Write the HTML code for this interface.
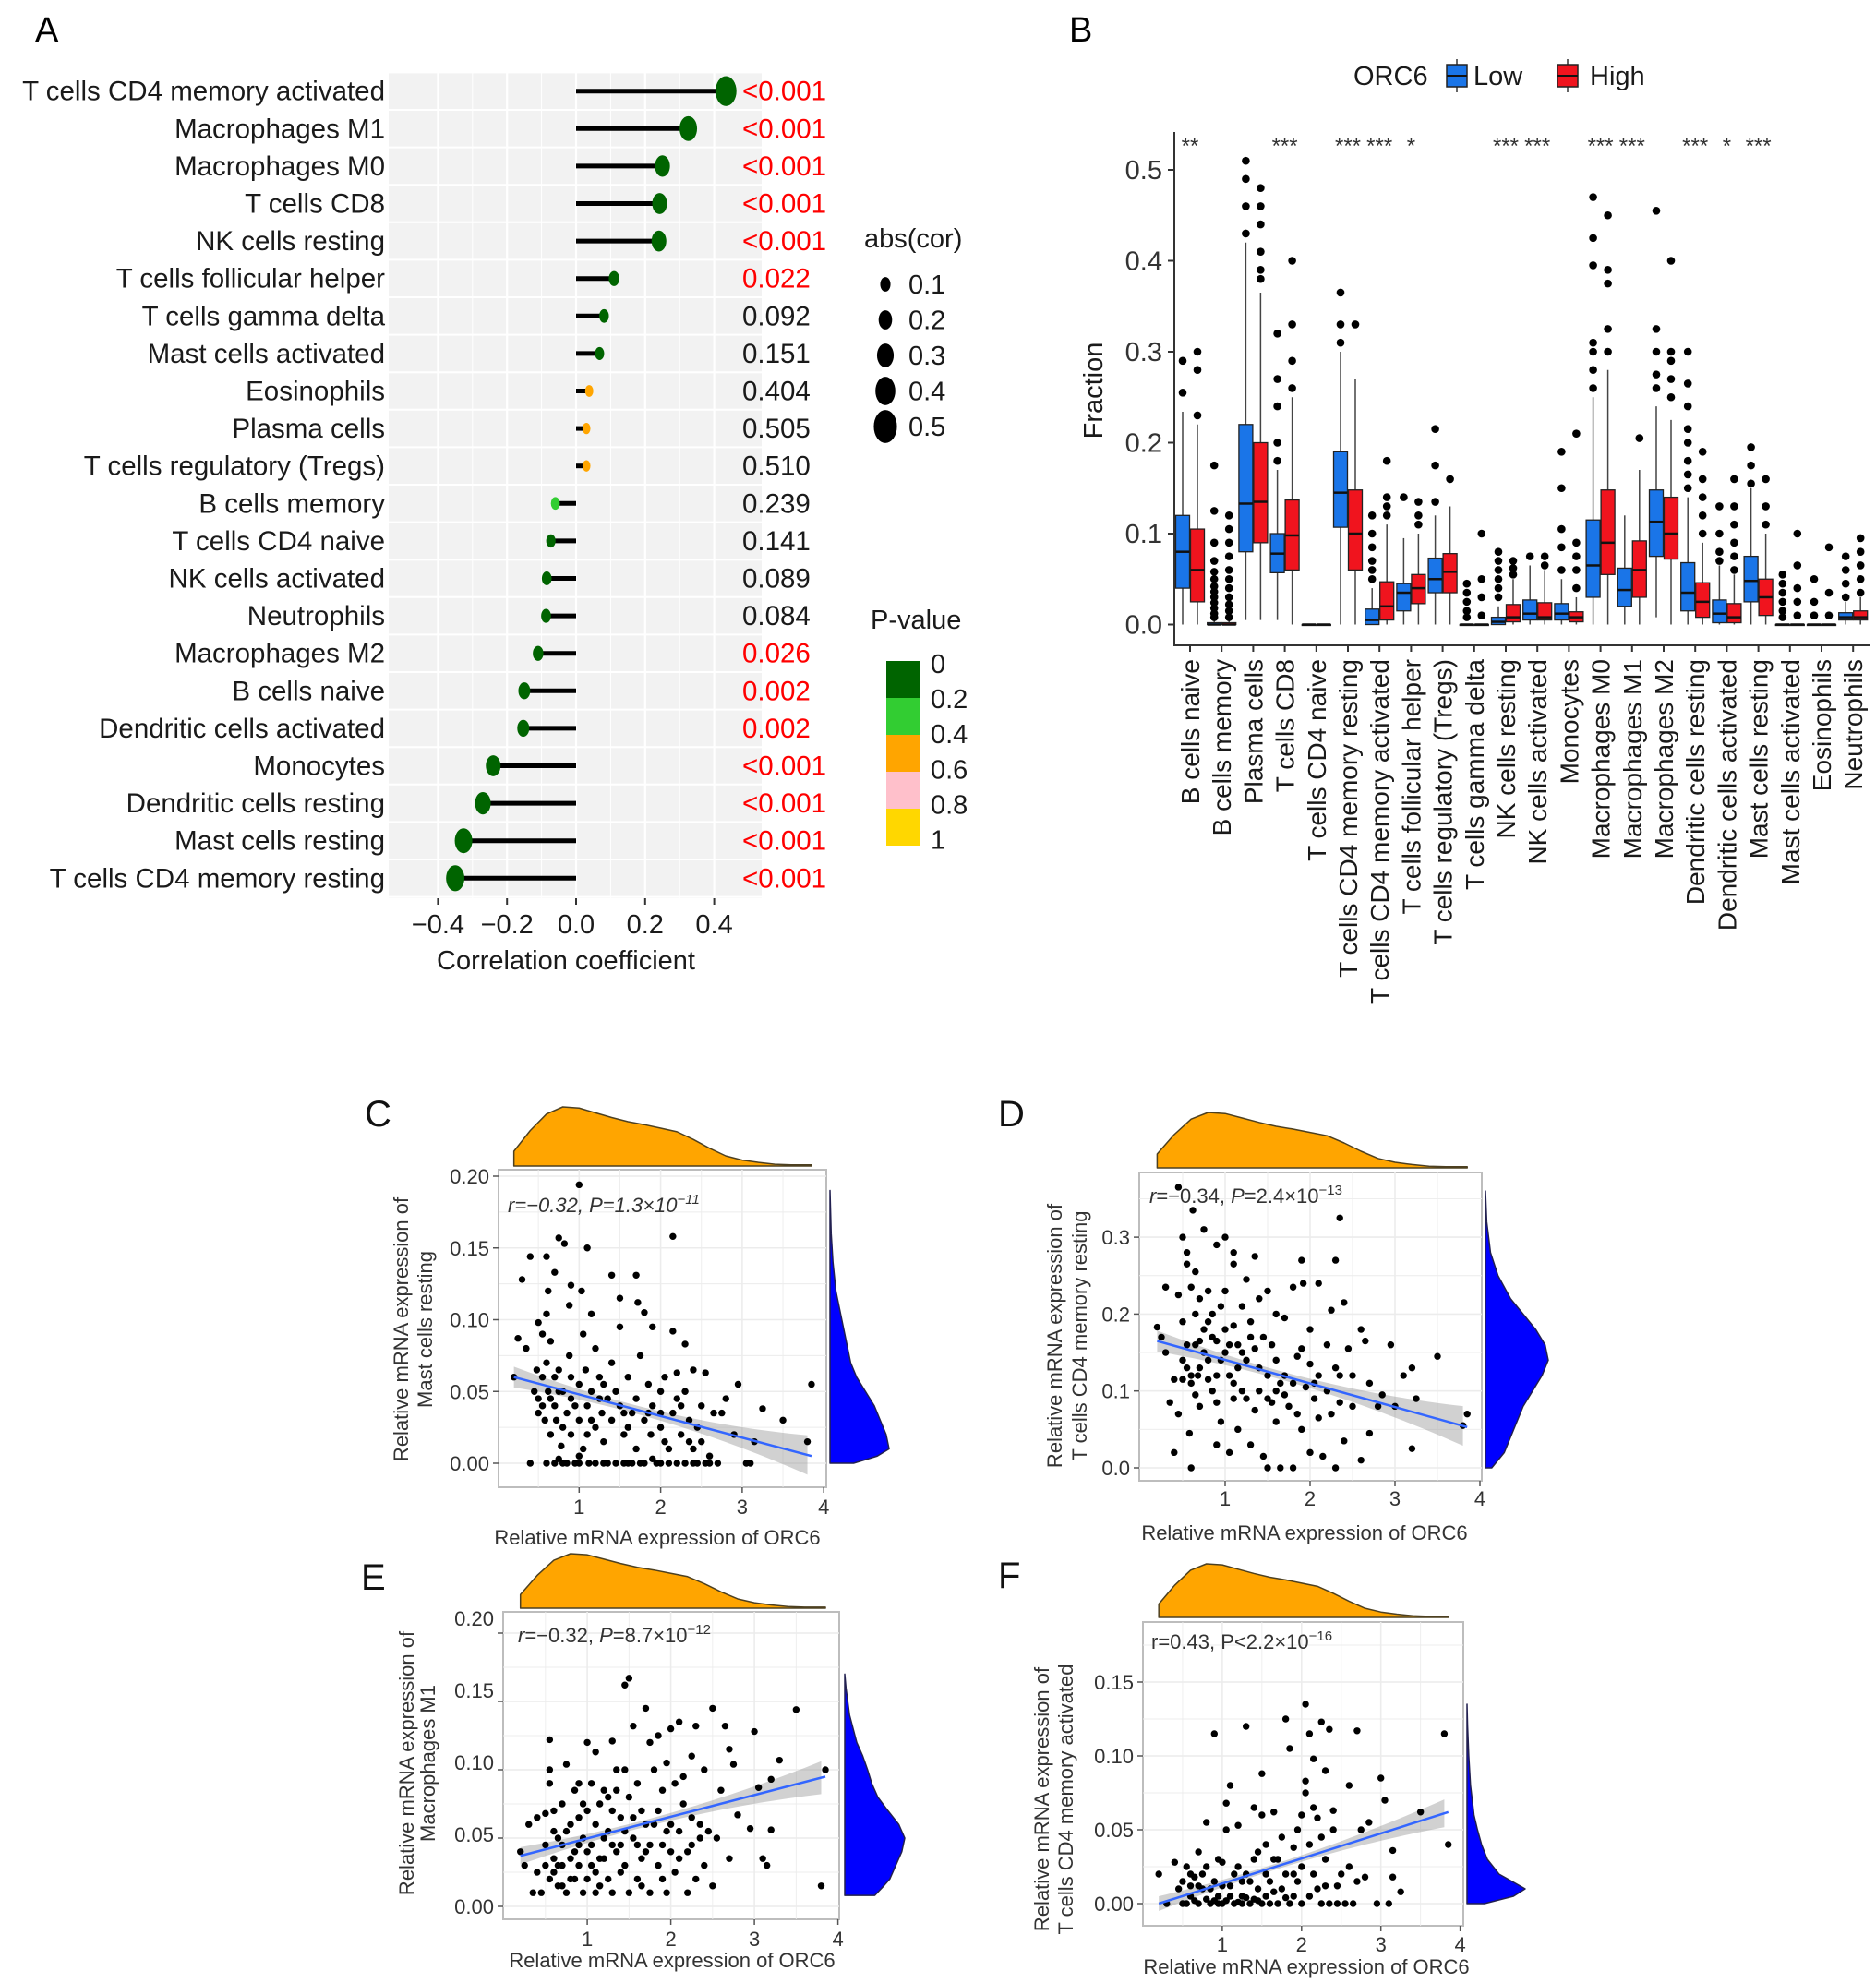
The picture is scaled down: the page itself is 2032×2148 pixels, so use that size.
<!DOCTYPE html>
<html><head><meta charset="utf-8"><style>
html,body{margin:0;padding:0;background:#fff;}
svg{display:block;font-family:"Liberation Sans",Arial,sans-serif;}
</style></head><body>
<svg id="fig" width="2032" height="2148" viewBox="0 0 2032 2148" xmlns="http://www.w3.org/2000/svg">
<rect width="2032" height="2148" fill="#fff"/>
<g id="panelA"></g>
<g id="panelB"></g>
<g id="panelC"></g>
<g id="panelD"></g>
<g id="panelE"></g>
<g id="panelF"></g>
</svg>
<script>
// ---------- Panel A data ----------
const aCells=["T cells CD4 memory activated","Macrophages M1","Macrophages M0","T cells CD8","NK cells resting","T cells follicular helper","T cells gamma delta","Mast cells activated","Eosinophils","Plasma cells","T cells regulatory (Tregs)","B cells memory","T cells CD4 naive","NK cells activated","Neutrophils","Macrophages M2","B cells naive","Dendritic cells activated","Monocytes","Dendritic cells resting","Mast cells resting","T cells CD4 memory resting"];
const aCor=[0.434,0.325,0.25,0.242,0.24,0.11,0.081,0.068,0.038,0.03,0.03,-0.06,-0.073,-0.085,-0.087,-0.11,-0.15,-0.153,-0.24,-0.27,-0.326,-0.35];
const aPval=[0.0005,0.0005,0.0005,0.0005,0.0005,0.022,0.092,0.151,0.404,0.505,0.510,0.239,0.141,0.089,0.084,0.026,0.002,0.002,0.0005,0.0005,0.0005,0.0005];
const aPtext=["<0.001","<0.001","<0.001","<0.001","<0.001","0.022","0.092","0.151","0.404","0.505","0.510","0.239","0.141","0.089","0.084","0.026","0.002","0.002","<0.001","<0.001","<0.001","<0.001"];
const aTicks=[-0.4,-0.2,0,0.2,0.4];
const aTickLabels=["\u22120.4","\u22120.2","0.0","0.2","0.4"];
const aSizeLegend=[0.1,0.2,0.3,0.4,0.5];
const aPLegend=["0","0.2","0.4","0.6","0.8","1"];
// ---------- Panel B data ----------
const bCells=["B cells naive","B cells memory","Plasma cells","T cells CD8","T cells CD4 naive","T cells CD4 memory resting","T cells CD4 memory activated","T cells follicular helper","T cells regulatory (Tregs)","T cells gamma delta","NK cells resting","NK cells activated","Monocytes","Macrophages M0","Macrophages M1","Macrophages M2","Dendritic cells resting","Dendritic cells activated","Mast cells resting","Mast cells activated","Eosinophils","Neutrophils"];
// [q1, median, q3, whiskerLow, whiskerHigh]
const bLow=[[0.04,0.08,0.12,0,0.234],[0,0,0.002,0,0.005],[0.08,0.133,0.22,0.005,0.42],[0.057,0.078,0.1,0.005,0.17],[0,0,0,0,0],[0.107,0.145,0.19,0,0.30],[0,0.005,0.017,0,0.04],[0.015,0.035,0.045,0,0.095],[0.035,0.05,0.073,0,0.12],[0,0,0,0,0],[0,0.003,0.008,0,0.02],[0.005,0.012,0.027,0,0.065],[0.005,0.012,0.023,0,0.05],[0.03,0.065,0.115,0,0.25],[0.02,0.038,0.062,0,0.12],[0.075,0.113,0.148,0.008,0.24],[0.015,0.035,0.068,0,0.14],[0.002,0.012,0.027,0,0.065],[0.025,0.048,0.075,0,0.15],[0,0,0,0,0],[0,0,0,0,0],[0.005,0.008,0.013,0,0.025]];
const bHigh=[[0.025,0.06,0.105,0,0.22],[0,0,0.002,0,0.005],[0.09,0.135,0.2,0.005,0.365],[0.06,0.098,0.137,0,0.25],[0,0,0,0,0],[0.06,0.10,0.148,0,0.27],[0.005,0.02,0.047,0,0.11],[0.023,0.04,0.055,0,0.10],[0.035,0.058,0.078,0,0.13],[0,0,0,0,0],[0.003,0.008,0.022,0,0.05],[0.005,0.008,0.024,0,0.06],[0.003,0.008,0.014,0,0.03],[0.055,0.09,0.148,0,0.28],[0.03,0.06,0.092,0,0.17],[0.072,0.10,0.14,0,0.225],[0.008,0.025,0.046,0,0.09],[0.002,0.008,0.023,0,0.055],[0.01,0.03,0.05,0,0.10],[0,0,0,0,0],[0,0,0,0,0],[0.005,0.008,0.015,0,0.03]];
const bLowOut=[[0.255,0.29],[0.008,0.012,0.018,0.024,0.03,0.036,0.042,0.05,0.058,0.07,0.09,0.125,0.175],[0.43,0.46,0.49,0.51],[0.18,0.2,0.24,0.27,0.32],[],[0.31,0.33,0.365],[0.05,0.06,0.07,0.085,0.1,0.12],[0.14],[0.135,0.175,0.215],[0.008,0.015,0.025,0.035,0.045],[0.03,0.04,0.05,0.06,0.07,0.08],[0.075],[0.06,0.085,0.105,0.15,0.19],[0.26,0.28,0.3,0.31,0.395,0.425,0.47],[],[0.26,0.275,0.3,0.325,0.455],[0.15,0.165,0.18,0.2,0.215,0.24,0.265,0.30],[0.07,0.08,0.1,0.13],[0.155,0.175,0.195],[0.008,0.015,0.025,0.035,0.045,0.055],[0.01,0.025,0.05],[0.03,0.045,0.06,0.075]];
const bHighOut=[[0.23,0.28,0.30],[0.008,0.015,0.022,0.03,0.04,0.05,0.06,0.075,0.09,0.105,0.12],[0.38,0.39,0.41,0.44,0.46,0.48],[0.26,0.29,0.33,0.40],[],[0.33],[0.12,0.13,0.14,0.18],[0.11,0.12,0.135],[0.16],[0.01,0.03,0.05,0.10],[0.055,0.062,0.07],[0.065,0.075],[0.04,0.06,0.075,0.09,0.21],[0.3,0.325,0.375,0.39,0.45],[0.205],[0.25,0.27,0.29,0.30,0.40],[0.10,0.12,0.14,0.16,0.19],[0.06,0.075,0.09,0.11,0.13,0.16],[0.11,0.13,0.16],[0.01,0.025,0.04,0.065,0.10],[0.01,0.035,0.085],[0.035,0.05,0.065,0.08,0.095]];
const bStars=["**","","","***","","***","***","*","","","***","***","","***","***","","***","*","***","","",""];
const bTicks=[0,0.1,0.2,0.3,0.4,0.5];
const bTickLabels=["0.0","0.1","0.2","0.3","0.4","0.5"];
// ---------- Scatter data ----------
const orcDensX=[0.2,0.4,0.6,0.8,1.0,1.2,1.4,1.6,1.8,2.0,2.2,2.4,2.6,2.8,3.0,3.2,3.4,3.6,3.85];
const orcDensH=[0.25,0.6,0.88,1.0,0.98,0.9,0.82,0.75,0.7,0.64,0.58,0.45,0.3,0.17,0.1,0.06,0.03,0.02,0.02];
const cPts=[[0.2,0.06],[0.25,0.087],[0.3,0.128],[0.35,0.08],[0.4,0.144],[0.45,0.05],[0.4,0],[0.5,0.098],[0.55,0.09],[0.6,0.144],[0.6,0.104],[0.62,0.12],[0.65,0.085],[0.7,0.133],[0.75,0.157],[0.82,0.153],[0.9,0.124],[0.88,0.11],[1.0,0.194],[1.03,0.12],[1.1,0.15],[1.15,0.104],[1.4,0.131],[1.5,0.115],[1.7,0.131],[1.72,0.112],[1.8,0.105],[2.15,0.158],[2.15,0.092],[2.3,0.083],[0.48,0.065],[0.5,0.045],[0.5,0.035],[0.55,0.06],[0.58,0.03],[0.6,0.07],[0.62,0.05],[0.65,0.02],[0.7,0.04],[0.7,0.06],[0.72,0.03],[0.75,0.065],[0.78,0.012],[0.8,0.05],[0.8,0],[0.85,0.035],[0.88,0.075],[0.9,0.06],[0.9,0.02],[0.95,0.04],[0.95,0],[1.0,0.055],[1.0,0.03],[1.05,0.09],[1.05,0.01],[1.08,0.065],[1.1,0.04],[1.12,0],[1.15,0.05],[1.2,0.025],[1.2,0.08],[1.25,0.06],[1.28,0.035],[1.3,0.015],[1.3,0],[1.35,0.045],[1.4,0.07],[1.4,0.03],[1.45,0],[1.5,0.095],[1.5,0.04],[1.55,0.02],[1.6,0.06],[1.6,0],[1.65,0.035],[1.7,0.045],[1.7,0.01],[1.75,0.075],[1.8,0.03],[1.8,0],[1.85,0.055],[1.88,0.02],[1.9,0.095],[1.9,0.04],[1.95,0],[2.0,0.05],[2.0,0.025],[2.05,0.06],[2.1,0.01],[2.1,0],[2.15,0.035],[2.2,0.045],[2.2,0.063],[2.25,0.02],[2.3,0],[2.3,0.05],[2.35,0.03],[2.4,0.01],[2.4,0.065],[2.45,0],[2.5,0.04],[2.5,0.015],[2.55,0.063],[2.6,0.005],[2.65,0.035],[2.7,0],[2.75,0.035],[2.8,0.045],[2.95,0.055],[2.9,0.02],[3.05,0],[3.15,0.015],[3.25,0.038],[3.5,0.03],[3.8,0.015],[3.85,0.055],[1.0,0.005],[0.9,0.045],[1.3,0.055],[1.6,0.025],[2.0,0.035],[0.7,0],[0.6,0],[1.55,0],[2.2,0],[2.6,0],[2.35,0.015],[1.15,0.03],[0.85,0],[1.0,0],[1.2,0],[1.35,0],[1.65,0],[1.75,0],[2.0,0],[2.4,0],[2.55,0],[1.9,0.003],[0.75,0.003],[3.1,0],[0.65,0.045],[0.8,0.025],[1.1,0.02],[1.25,0.045],[1.45,0.05],[1.55,0.035],[1.85,0.035],[2.05,0.015],[2.25,0.04],[2.45,0.025],[0.55,0.04],[0.75,0.05]];
const dPts=[[0.2,0.183],[0.25,0.17],[0.3,0.235],[0.3,0.15],[0.35,0.085],[0.4,0.115],[0.4,0.02],[0.45,0.365],[0.45,0.225],[0.45,0.07],[0.5,0.3],[0.5,0.19],[0.55,0.28],[0.55,0.265],[0.55,0.13],[0.58,0.045],[0.6,0.235],[0.6,0.11],[0.6,0],[0.62,0.335],[0.65,0.255],[0.65,0.2],[0.65,0.16],[0.68,0.12],[0.7,0.22],[0.7,0.08],[0.75,0.31],[0.75,0.18],[0.8,0.23],[0.8,0.14],[0.85,0.2],[0.85,0.1],[0.9,0.29],[0.9,0.165],[0.9,0.03],[0.95,0.21],[0.95,0.06],[1.0,0.3],[1.0,0.23],[1.0,0.15],[1.05,0.12],[1.05,0.02],[1.1,0.28],[1.1,0.265],[1.1,0.185],[1.1,0.09],[1.15,0.16],[1.15,0.05],[1.2,0.21],[1.2,0.1],[1.25,0.245],[1.25,0.14],[1.3,0.17],[1.3,0.03],[1.35,0.275],[1.35,0.075],[1.4,0.22],[1.4,0.13],[1.45,0.015],[1.5,0.23],[1.5,0.09],[1.5,0],[1.55,0.16],[1.6,0.2],[1.6,0.06],[1.65,0],[1.7,0.195],[1.7,0.12],[1.75,0.08],[1.8,0.235],[1.8,0],[1.85,0.145],[1.9,0.27],[1.9,0.05],[1.92,0.24],[1.95,0.105],[2.0,0.18],[2.0,0.02],[2.05,0.09],[2.1,0.24],[2.1,0.12],[2.15,0.015],[2.2,0.16],[2.25,0.205],[2.25,0.07],[2.3,0.27],[2.3,0],[2.35,0.325],[2.35,0.12],[2.4,0.215],[2.4,0.035],[2.45,0.155],[2.5,0.08],[2.6,0.18],[2.6,0.01],[2.65,0.165],[2.7,0.11],[2.7,0.045],[2.8,0.08],[2.85,0.095],[2.95,0.16],[3.0,0.08],[3.1,0.12],[3.2,0.13],[3.2,0.025],[3.25,0.09],[3.5,0.145],[3.8,0.055],[3.85,0.07],[0.5,0.115],[0.7,0.13],[0.9,0.12],[1.2,0.15],[1.4,0.1],[1.6,0.14],[1.8,0.11],[2.0,0.135],[2.2,0.1],[0.8,0.19],[1.0,0.18],[1.3,0.19],[1.5,0.12],[1.7,0.095],[1.9,0.155],[2.1,0.065],[2.3,0.13],[2.5,0.12],[1.1,0.11],[0.65,0.095],[0.75,0.15],[0.95,0.14],[1.15,0.13],[1.45,0.17],[1.65,0.11],[0.55,0.16],[0.85,0.17],[1.25,0.09],[1.55,0.085],[1.85,0.07],[0.6,0.12],[0.7,0.165],[0.8,0.115],[1.05,0.16],[1.35,0.155],[1.6,0.1],[2.05,0.11],[2.35,0.085],[0.5,0.14],[0.9,0.085]];
const ePts=[[0.2,0.04],[0.25,0.03],[0.3,0.06],[0.35,0.01],[0.4,0.065],[0.4,0.025],[0.45,0.01],[0.5,0.045],[0.5,0.068],[0.55,0.122],[0.55,0.1],[0.55,0.09],[0.55,0.02],[0.6,0.035],[0.6,0.055],[0.65,0.05],[0.65,0.015],[0.7,0.075],[0.7,0.03],[0.75,0.104],[0.75,0.01],[0.8,0.06],[0.8,0.02],[0.85,0.04],[0.85,0.085],[0.9,0.09],[0.9,0.03],[0.95,0.05],[0.95,0.01],[1.0,0.12],[1.0,0.07],[1.0,0.02],[1.05,0.09],[1.05,0.045],[1.1,0.113],[1.1,0.06],[1.1,0.01],[1.15,0.035],[1.2,0.085],[1.2,0.05],[1.25,0.02],[1.3,0.121],[1.3,0.07],[1.3,0.01],[1.35,0.1],[1.35,0.04],[1.4,0.065],[1.45,0.162],[1.45,0.1],[1.45,0.03],[1.5,0.167],[1.5,0.08],[1.5,0.01],[1.55,0.132],[1.55,0.05],[1.6,0.09],[1.6,0.02],[1.65,0.07],[1.7,0.145],[1.7,0.04],[1.75,0.12],[1.75,0.01],[1.8,0.06],[1.8,0.1],[1.85,0.125],[1.85,0.03],[1.9,0.085],[1.9,0.045],[1.95,0.105],[1.95,0.01],[2.0,0.13],[2.0,0.06],[2.05,0.09],[2.05,0.025],[2.1,0.135],[2.1,0.055],[2.15,0.095],[2.2,0.04],[2.2,0.01],[2.25,0.11],[2.25,0.065],[2.3,0.132],[2.3,0.02],[2.35,0.05],[2.4,0.1],[2.4,0.03],[2.5,0.145],[2.5,0.015],[2.55,0.05],[2.6,0.085],[2.65,0.132],[2.7,0.115],[2.7,0.035],[2.75,0.104],[2.8,0.067],[2.95,0.057],[3.0,0.128],[3.05,0.087],[3.1,0.035],[3.15,0.03],[3.2,0.093],[3.2,0.056],[3.3,0.107],[3.5,0.144],[3.8,0.015],[3.85,0.1],[0.7,0.045],[0.9,0.065],[1.15,0.075],[1.4,0.025],[1.65,0.035],[1.85,0.07],[2.15,0.075],[2.35,0.06],[0.8,0.035],[1.25,0.055],[1.55,0.065],[2.0,0.04],[0.6,0.025],[1.05,0.03],[1.35,0.085],[1.75,0.045],[2.45,0.055],[0.75,0.055],[0.95,0.075],[1.2,0.035],[1.45,0.055],[1.7,0.06],[0.65,0.03],[1.0,0.04],[1.3,0.045],[1.6,0.045],[1.9,0.02],[2.1,0.035],[0.85,0.02],[1.15,0.015],[0.5,0.03],[0.7,0.015],[0.9,0.045],[1.1,0.025],[1.4,0.045],[1.65,0.015],[2.25,0.045],[0.6,0.07],[1.25,0.08],[1.95,0.055]];
const fPts=[[0.2,0.02],[0.3,0.0],[0.4,0.028],[0.45,0.01],[0.5,0.015],[0.5,0],[0.55,0.025],[0.6,0.005],[0.65,0.018],[0.7,0.0],[0.7,0.035],[0.75,0.01],[0.8,0.055],[0.8,0.025],[0.85,0],[0.9,0.115],[0.9,0.015],[0.95,0.005],[1.0,0.028],[1.0,0],[1.05,0.05],[1.05,0.068],[1.1,0.08],[1.1,0.012],[1.15,0.0],[1.2,0.025],[1.2,0.053],[1.25,0.005],[1.3,0.12],[1.3,0.02],[1.35,0.0],[1.4,0.065],[1.4,0.03],[1.45,0.01],[1.5,0.088],[1.5,0.06],[1.5,0],[1.55,0.04],[1.6,0.015],[1.65,0.062],[1.65,0.03],[1.7,0.0],[1.75,0.045],[1.8,0.125],[1.8,0.02],[1.85,0.105],[1.9,0.038],[1.9,0.005],[1.95,0.05],[2.0,0.06],[2.0,0.025],[2.0,0],[2.05,0.135],[2.05,0.083],[2.05,0.075],[2.1,0.115],[2.1,0.04],[2.15,0.098],[2.15,0.065],[2.2,0.058],[2.2,0.01],[2.25,0.123],[2.25,0.045],[2.3,0.09],[2.3,0.03],[2.35,0.118],[2.35,0.0],[2.4,0.063],[2.4,0.05],[2.5,0.02],[2.55,0.0],[2.6,0.08],[2.6,0.025],[2.7,0.117],[2.7,0.015],[2.75,0.05],[2.8,0.018],[2.85,0.055],[2.95,0],[3.0,0.085],[3.05,0.07],[3.1,0],[3.15,0.018],[3.15,0.036],[3.25,0.008],[3.5,0.062],[3.8,0.115],[3.85,0.04],[0.6,0.012],[0.75,0.02],[0.95,0.03],[1.15,0.02],[1.35,0.015],[1.55,0.005],[1.75,0.01],[1.95,0.015],[2.15,0.02],[2.45,0.012],[0.55,0],[0.95,0],[1.25,0],[1.6,0],[1.85,0],[2.25,0],[2.45,0],[2.65,0],[1.45,0.035],[1.7,0.03],[0.65,0.002],[0.8,0.003],[1.05,0.002],[1.2,0.001],[1.4,0.003],[1.55,0.02],[1.8,0.004],[2.1,0.005],[0.9,0.002],[1.3,0.004],[0.7,0.012],[0.85,0.01],[1.1,0.005],[1.25,0.015],[1.45,0.002],[1.65,0.008],[1.9,0.02],[2.3,0.012],[0.6,0.02],[1.0,0.012]];
const cFit=[0.06,0.005], dFit=[0.165,0.053], eFit=[0.037,0.095], fFit=[0.0,0.062];
const fitX=[0.2,3.85];
const cDensY=[0,0.005,0.01,0.02,0.03,0.04,0.05,0.06,0.07,0.08,0.09,0.1,0.12,0.14,0.16,0.19];
const cDensH=[0.4,0.8,1.0,0.95,0.85,0.75,0.6,0.45,0.35,0.3,0.25,0.2,0.1,0.05,0.02,0];
const dDensY=[0,0.02,0.05,0.08,0.1,0.12,0.14,0.16,0.18,0.2,0.22,0.25,0.28,0.32,0.36];
const dDensH=[0.1,0.3,0.45,0.6,0.75,0.9,1.0,0.95,0.8,0.6,0.4,0.2,0.08,0.02,0];
const eDensY=[0.008,0.015,0.02,0.03,0.04,0.05,0.06,0.07,0.08,0.09,0.1,0.11,0.12,0.14,0.16,0.17];
const eDensH=[0.5,0.65,0.75,0.85,0.95,1.0,0.9,0.72,0.55,0.45,0.38,0.3,0.2,0.08,0.02,0];
const fDensY=[0,0.005,0.01,0.02,0.03,0.04,0.05,0.06,0.08,0.1,0.12,0.135];
const fDensH=[0.3,0.8,1.0,0.55,0.35,0.25,0.18,0.12,0.06,0.03,0.01,0];

const NS="http://www.w3.org/2000/svg";
function mk(parent,tag,attrs,text){const e=document.createElementNS(NS,tag);for(const k in attrs)e.setAttribute(k,attrs[k]);if(text!==undefined)e.textContent=text;parent.appendChild(e);return e;}

// ================= Panel A =================
(function(){
const g=document.getElementById('panelA');
const x0=624, ux=374, rowY0=98.7, rowH=40.6;
const xs=v=>x0+v*ux, ys=i=>rowY0+i*rowH;
let t=mk(g,'text',{x:38,y:45,'font-size':38});t.textContent='A';


let bg=mk(g,'rect',{x:421,y:78,width:404,height:895,fill:'#f2f2f2'});


for(let v=-0.4;v<=0.41;v+=0.1){mk(g,'line',{x1:xs(v),x2:xs(v),y1:78,y2:973,stroke:'#fff','stroke-width':Math.abs(Math.round(v*10))%2===0?2.2:1});}
for(let i=0;i<=aCells.length;i++){mk(g,'line',{x1:421,x2:825,y1:ys(i)-rowH/2,y2:ys(i)-rowH/2,stroke:'#fff','stroke-width':2});}
const pcol=p=>p<0.2?'#006400':p<0.4?'#32cd32':p<0.6?'#ffa500':p<0.8?'#ffc0cb':'#ffd700';
aCells.forEach((c,i)=>{
  const y=ys(i);
  const lab=mk(g,'text',{x:417,y:y+10,'font-size':29.5,'text-anchor':'end',fill:'#1a1a1a'},c);
  
  
  const ln=mk(g,'line',{x1:xs(0),x2:xs(aCor[i]),y1:y,y2:y,stroke:'#000','stroke-width':5});
  
  
  const rx=3.8+17.5*Math.abs(aCor[i]);
  const d=mk(g,'ellipse',{cx:xs(aCor[i]),cy:y,rx:rx,ry:rx*1.42,fill:pcol(aPval[i])});
  
  
  const pt=mk(g,'text',{x:804,y:y+10,'font-size':29.5,fill:aPval[i]<0.05?'#ff0000':'#1a1a1a'},aPtext[i]);
  
  
});
aTicks.forEach((v,i)=>{
  mk(g,'line',{x1:xs(v),x2:xs(v),y1:973,y2:980,stroke:'#333','stroke-width':2});
  const tl=mk(g,'text',{x:xs(v),y:1011,'font-size':29,'text-anchor':'middle',fill:'#1a1a1a'},aTickLabels[i]);
  
  
});
const xt=mk(g,'text',{x:613,y:1050,'font-size':29,'text-anchor':'middle',fill:'#1a1a1a'},'Correlation coefficient');


const st=mk(g,'text',{x:936,y:268,'font-size':29,fill:'#1a1a1a'},'abs(cor)');


aSizeLegend.forEach((v,i)=>{
  const y=308+i*38.5, rx=3.8+17.5*v;
  const e=mk(g,'ellipse',{cx:959,cy:y,rx:rx,ry:rx*1.42,fill:'#000'});
  
  
  mk(g,'text',{x:984,y:y+10,'font-size':29,fill:'#1a1a1a'},v.toFixed(1));
});
const pt=mk(g,'text',{x:943,y:681,'font-size':29,fill:'#1a1a1a'},'P-value');


const cols=['#006400','#32cd32','#ffa500','#ffc0cb','#ffd700'];
cols.forEach((c,i)=>{mk(g,'rect',{x:960,y:716+i*40,width:36,height:40,fill:c});});
aPLegend.forEach((l,i)=>{
  const tx=mk(g,'text',{x:1008,y:729+i*38.1,'font-size':29,fill:'#1a1a1a'},l);
  
  
});
})();

// ================= Panel B =================
(function(){
const g=document.getElementById('panelB');
const y0=676.5, uy=985, gx0=1289, gdx=34.2, bw=15;
const ys=v=>y0-v*uy, gx=i=>gx0+i*gdx;
let t=mk(g,'text',{x:1158,y:45,'font-size':38});t.textContent='B';


const lt=mk(g,'text',{x:1466,y:92,'font-size':29,fill:'#1a1a1a'},'ORC6');


[['#1a75e8',1567,'Low',1596],['#f0141e',1687,'High',1722]].forEach(k=>{
  const kg=mk(g,'g',{});
  
  
  mk(kg,'line',{x1:k[1]+11,x2:k[1]+11,y1:64,y2:100,stroke:'#333','stroke-width':1.5});
  mk(kg,'rect',{x:k[1],y:70,width:22,height:24,fill:k[0],stroke:'#222','stroke-width':1.5});
  mk(kg,'line',{x1:k[1],x2:k[1]+22,y1:82,y2:82,stroke:'#111','stroke-width':2});
  mk(kg,'text',{x:k[3],y:92,'font-size':29,fill:'#1a1a1a'},k[2]);
});
const yt=mk(g,'text',{x:0,y:0,'font-size':29,'text-anchor':'middle',fill:'#1a1a1a',transform:'translate(1194,423) rotate(-90)'},'Fraction');


mk(g,'line',{x1:1272,x2:1272,y1:143,y2:699,stroke:'#333','stroke-width':2});
mk(g,'line',{x1:1271,x2:2025,y1:699,y2:699,stroke:'#333','stroke-width':2});
bTicks.forEach((v,i)=>{
  mk(g,'line',{x1:1265,x2:1272,y1:ys(v),y2:ys(v),stroke:'#333','stroke-width':2});
  const tl=mk(g,'text',{x:1259,y:ys(v)+10,'font-size':29,'text-anchor':'end',fill:'#333'},bTickLabels[i]);
  
  
});
function box(stats,outs,cx,col,name){
  const bg=mk(g,'g',{});
  
  
  const [q1,md,q3,wl,wh]=stats;
  mk(bg,'line',{x1:cx,x2:cx,y1:ys(wh),y2:ys(wl),stroke:'#444','stroke-width':1.5});
  mk(bg,'rect',{x:cx-bw/2,y:ys(q3),width:bw,height:Math.max(ys(q1)-ys(q3),1),fill:col,stroke:'#222','stroke-width':1.3});
  mk(bg,'line',{x1:cx-bw/2,x2:cx+bw/2,y1:ys(md),y2:ys(md),stroke:'#111','stroke-width':2.5});
  outs.forEach(o=>{mk(bg,'circle',{cx:cx,cy:ys(o),r:4.3,fill:'#000'});});
}
bCells.forEach((c,i)=>{
  const x=gx(i);
  box(bLow[i],bLowOut[i],x-8,'#1a75e8','box-low');
  box(bHigh[i],bHighOut[i],x+8,'#f0141e','box-high');
  mk(g,'line',{x1:x,x2:x,y1:699,y2:706,stroke:'#333','stroke-width':2});
  const lab=mk(g,'text',{x:0,y:0,'font-size':28,'text-anchor':'end',fill:'#1a1a1a',transform:`translate(${x+10},714) rotate(-90)`},c);
  
  
  if(bStars[i]){
    const s=mk(g,'text',{x:x,y:166,'font-size':24,'text-anchor':'middle',fill:'#333'},bStars[i]);
    
    
  }
});
})();

// ================= Scatter panels =================
function scatter(cfg){
  const g=document.getElementById(cfg.id);
  const xs=v=>cfg.x0+v*cfg.ux, ys=v=>cfg.y0-v*cfg.uy;
  const L=mk(g,'text',{x:cfg.letter[1],y:cfg.letter[2],'font-size':40,fill:'#111'},cfg.letter[0]);
  
  
  const [bx1,by1,bx2,by2]=cfg.box;
  let d=`M${xs(orcDensX[0])},${cfg.topBase}`;
  orcDensX.forEach((v,i)=>{d+=` L${xs(v)},${cfg.topBase-orcDensH[i]*cfg.topH}`;});
  d+=` L${xs(orcDensX[orcDensX.length-1])},${cfg.topBase} Z`;
  const td=mk(g,'path',{d:d,fill:'#ffa500',stroke:'#4d4020','stroke-width':1.5,'stroke-linejoin':'round'});
  
  
  let r=`M${cfg.rBase},${ys(cfg.densY[0])}`;
  cfg.densY.forEach((v,i)=>{r+=` L${cfg.rBase+cfg.densH[i]*cfg.rW},${ys(v)}`;});
  r+=` L${cfg.rBase},${ys(cfg.densY[cfg.densY.length-1])} Z`;
  const rd=mk(g,'path',{d:r,fill:'#0000ff',stroke:'#222050','stroke-width':1.5,'stroke-linejoin':'round'});
  
  
  const pb=mk(g,'rect',{x:bx1,y:by1,width:bx2-bx1,height:by2-by1,fill:'#fff',stroke:'#bdbdbd','stroke-width':2});
  
  
  for(let v=0.5;v<4;v+=0.5){const X=xs(v);if(X>bx1&&X<bx2)mk(g,'line',{x1:X,x2:X,y1:by1,y2:by2,stroke:'#ececec','stroke-width':v%1===0?1.6:0.9});}
  const st=cfg.yTicks[1]-cfg.yTicks[0];
  for(let v=cfg.yTicks[0]-st/2;v<=cfg.yTicks[cfg.yTicks.length-1]+st;v+=st/2){const Y=ys(v);if(Y>by1&&Y<by2)mk(g,'line',{x1:bx1,x2:bx2,y1:Y,y2:Y,stroke:'#ececec','stroke-width':0.9});}
  cfg.yTicks.forEach(v=>{const Y=ys(v);if(Y>by1&&Y<by2)mk(g,'line',{x1:bx1,x2:bx2,y1:Y,y2:Y,stroke:'#ececec','stroke-width':1.6});});
  const [f0,f1]=cfg.fit, sl=(f1-f0)/(fitX[1]-fitX[0]);
  const fy=v=>f0+sl*(v-fitX[0]);
  const hw=v=>cfg.se*(0.18+0.14*Math.pow(v-1.6,2));
  let up=[],lo=[];
  for(let v=fitX[0];v<=fitX[1]+0.001;v+=0.1){up.push(`${xs(v)},${ys(fy(v)+hw(v))}`);lo.unshift(`${xs(v)},${ys(fy(v)-hw(v))}`);}
  const band=mk(g,'polygon',{points:up.concat(lo).join(' '),fill:'#999','fill-opacity':0.45});
  
  
  cfg.pts.forEach(p=>{
    const c=mk(g,'circle',{cx:xs(p[0]),cy:ys(p[1]),r:3.7,fill:'#000'});
    
    
  });
  const fl=mk(g,'line',{x1:xs(fitX[0]),y1:ys(f0),x2:xs(fitX[1]),y2:ys(f1),stroke:'#3366ff','stroke-width':2.5});
  
  
  cfg.yTicks.forEach((v,i)=>{
    mk(g,'line',{x1:bx1-6,x2:bx1,y1:ys(v),y2:ys(v),stroke:'#555','stroke-width':1.5});
    const tl=mk(g,'text',{x:bx1-10,y:ys(v)+8+(cfg.yLabShift?cfg.yLabShift*i:0),'font-size':22,'text-anchor':'end',fill:'#333'},cfg.yLabels[i]);
    
    
  });
  [1,2,3,4].forEach(v=>{
    mk(g,'line',{x1:xs(v),x2:xs(v),y1:by2,y2:by2+6,stroke:'#555','stroke-width':1.5});
    const tl=mk(g,'text',{x:xs(v),y:cfg.xLabY,'font-size':22,'text-anchor':'middle',fill:'#333'},String(v));
    
    
  });
  const xt=mk(g,'text',{x:cfg.xTitle[0],y:cfg.xTitle[1],'font-size':22,'text-anchor':'middle',fill:'#333'},'Relative mRNA expression of ORC6');
  
  
  cfg.yTitle.forEach((s,i)=>{
    const yt=mk(g,'text',{x:0,y:0,'font-size':22,'text-anchor':'middle',fill:'#333',transform:`translate(${cfg.yTitleX[i]+8},${cfg.yTitleC}) rotate(-90)`},s);
    
    
  });
  const an=mk(g,'text',{x:cfg.ann[0],y:cfg.ann[1],'font-size':22,fill:'#333'});
  
  
  cfg.annParts.forEach(p=>{mk(an,'tspan',p.a||{},p.t);});
}
scatter({id:'panelC',letter:['C',395,1220],box:[540,1267,895,1611],x0:539,ux:88.3,y0:1585,uy:1555,
  yTicks:[0,0.05,0.1,0.15,0.2],yLabels:["0.00","0.05","0.10","0.15","0.20"],pts:cPts,fit:cFit,se:0.016,
  topBase:1263,topH:64,rBase:899,rW:64,densY:cDensY,densH:cDensH,xLabY:1640,xTitle:[712,1673],
  yTitle:["Relative mRNA expression of","Mast cells resting"],yTitleX:[434,460],yTitleC:1440,ann:[550,1313],
  annParts:[{t:'r',a:{'font-style':'italic'}},{t:'=−0.32, ',a:{'font-style':'italic'}},{t:'P',a:{'font-style':'italic'}},{t:'=1.3×10',a:{'font-style':'italic'}},{t:'−11',a:{'font-size':15,dy:-9,'font-style':'italic'}}]});
scatter({id:'panelD',letter:['D',1081,1220],box:[1234,1270,1605,1604],x0:1235,ux:92,y0:1590,uy:833,
  yTicks:[0,0.1,0.2,0.3],yLabels:["0.0","0.1","0.2","0.3"],pts:dPts,fit:dFit,se:0.03,
  topBase:1265,topH:60,rBase:1609,rW:68,densY:dDensY,densH:dDensH,xLabY:1631,xTitle:[1413,1668],
  yTitle:["Relative mRNA expression of","T cells CD4 memory resting"],yTitleX:[1142,1169],yTitleC:1447,ann:[1245,1303],
  annParts:[{t:'r',a:{'font-style':'italic'}},{t:'=−0.34, '},{t:'P',a:{'font-style':'italic'}},{t:'=2.4×10'},{t:'−13',a:{'font-size':15,dy:-9}}]});
scatter({id:'panelE',letter:['E',391,1722],box:[545,1746,909,2079],x0:545.6,ux:90.5,y0:2065,uy:1480,
  yTicks:[0,0.05,0.1,0.15,0.2],yLabels:["0.00","0.05","0.10","0.15","0.20"],yLabShift:-4,pts:ePts,fit:eFit,se:0.014,
  topBase:1742,topH:59,rBase:915,rW:65,densY:eDensY,densH:eDensH,xLabY:2108,xTitle:[728,2131],
  yTitle:["Relative mRNA expression of","Macrophages M1"],yTitleX:[440,463],yTitleC:1910,ann:[561,1779],
  annParts:[{t:'r',a:{'font-style':'italic'}},{t:'=−0.32, '},{t:'P',a:{'font-style':'italic'}},{t:'=8.7×10'},{t:'−12',a:{'font-size':15,dy:-9}}]});
scatter({id:'panelF',letter:['F',1081,1720],box:[1238,1757,1585,2086],x0:1238,ux:85.9,y0:2062,uy:1600,
  yTicks:[0,0.05,0.1,0.15],yLabels:["0.00","0.05","0.10","0.15"],pts:fPts,fit:fFit,se:0.011,
  topBase:1752,topH:58,rBase:1589,rW:63,densY:fDensY,densH:fDensH,xLabY:2114,xTitle:[1415,2138],
  yTitle:["Relative mRNA expression of","T cells CD4 memory activated"],yTitleX:[1128,1154],yTitleC:1949,ann:[1247,1786],
  annParts:[{t:'r=0.43, P<2.2×10'},{t:'−16',a:{'font-size':15,dy:-9}}]});
</script>
</body></html>
